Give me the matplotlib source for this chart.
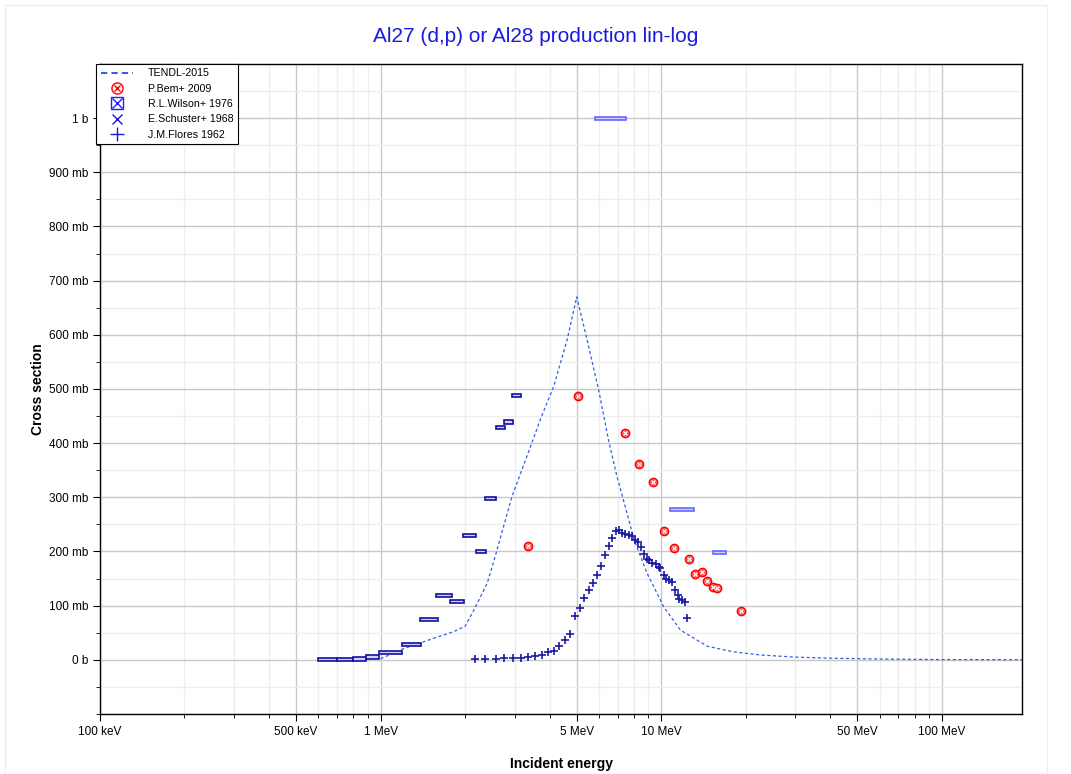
import matplotlib
matplotlib.use("Agg")
import matplotlib.pyplot as plt
from matplotlib.lines import Line2D
from matplotlib.patches import Rectangle
from matplotlib.legend_handler import HandlerTuple
from matplotlib.ticker import FixedLocator, FuncFormatter, MultipleLocator

plt.rcParams['font.family'] = ['Liberation Sans', 'DejaVu Sans']

# TENDL-2015 evaluation (MeV, mb)
tendl_e = [1.0, 1.2, 1.55, 1.82, 2.0, 2.15, 2.4, 2.56, 2.94, 3.0, 3.4, 3.71, 4.14, 4.62, 5.0,
           5.4, 5.98, 6.48, 6.95, 7.55, 8.0, 8.9, 10.2, 11.7, 14.6, 18, 22.5, 30, 40, 60, 100, 193]
tendl_xs = [2, 20, 40, 52, 62, 92, 142, 191, 302, 314, 390, 444, 505, 591, 670,
            598, 499, 407, 339, 271, 222, 160, 98, 55, 25, 15, 9, 5, 3, 1.5, 0.5, 0.2]

# P.Bem+ 2009
bem_e = [3.34, 5.07, 7.45, 8.31, 9.33, 10.2, 11.1, 12.6, 13.2, 14.0, 14.6, 15.3, 15.8, 19.3]
bem_xs = [211, 487, 419, 362, 328, 238, 207, 187, 159, 163, 146, 135, 133, 90]

# R.L.Wilson+ 1976 (energy bins)
wil_lo = [0.597, 0.697, 0.795, 0.89, 0.99, 1.19, 1.38, 1.58, 1.77, 1.97, 2.18, 2.36, 2.57, 2.76, 2.95,
          5.79, 10.78, 15.27]
wil_hi = [0.697, 0.795, 0.89, 0.99, 1.19, 1.39, 1.6, 1.79, 1.99, 2.18, 2.38, 2.58, 2.78, 2.97, 3.17,
          7.49, 13.06, 16.97]
wil_xs = [0, 0, 1.5, 5, 14, 28, 75, 119, 108, 229, 200, 298, 429, 439, 488, 999, 278, 198]
wil_light = [False] * 15 + [True] * 3

# J.M.Flores 1962
flo_e = [2.166, 2.364, 2.567, 2.763, 2.967, 3.167, 3.363, 3.552, 3.75, 3.963, 4.152, 4.335, 4.543,
         4.745, 4.93, 5.12, 5.32, 5.53, 5.71, 5.92, 6.12, 6.30, 6.52, 6.68, 6.88, 7.05, 7.25, 7.44,
         7.65, 7.84, 8.06, 8.26, 8.44, 8.65, 8.87, 9.04, 9.29, 9.54, 9.81, 9.92, 10.19, 10.42, 10.65,
         10.88, 11.21, 11.43, 11.59, 11.88, 12.14, 12.38]
flo_xs = [1.3, 1.3, 1.3, 2.5, 3.1, 4.3, 5, 6.8, 9.8, 15.3, 17.1, 25.3, 37,
          48, 80, 95, 115, 128, 142, 157, 174, 194, 211, 224, 237, 239, 234, 233,
          231, 228, 222, 217, 208, 195, 186, 184, 179, 177, 172, 169, 157, 150, 147,
          144, 129, 120, 112, 110, 107, 78]

x_ticks = [0.1, 0.5, 1, 5, 10, 50, 100]
x_labels = ["100 keV", "500 keV", "1 MeV", "5 MeV", "10 MeV", "50 MeV", "100 MeV"]

fig = plt.figure(figsize=(10.71, 7.74), dpi=100)
ax = fig.add_axes([100 / 1071, 1 - 714 / 774, 922 / 1071, 650 / 774])

ax.set_xscale('log')
ax.set_xlim(0.1, 193)
ax.set_ylim(-100, 1100)

# grid
ax.set_xticks(x_ticks)
ax.set_xticklabels(x_labels)
minor_x = [m * 10.0 ** d for d in (-1, 0, 1, 2) for m in (2, 3, 4, 6, 7, 8, 9) if m * 10.0 ** d < 193]
ax.xaxis.set_minor_locator(FixedLocator(minor_x))
ax.yaxis.set_major_locator(FixedLocator([0, 100, 200, 300, 400, 500, 600, 700, 800, 900, 1000]))
ax.yaxis.set_minor_locator(MultipleLocator(50))
ax.yaxis.set_major_formatter(FuncFormatter(
    lambda v, p: "0 b" if v == 0 else ("1 b" if v == 1000 else "%d mb" % v)))
ax.grid(which='major', color='#c8c8c8', lw=1.0)
ax.grid(which='minor', color='#eeeeee', lw=1.0)
ax.set_axisbelow(True)

ax.tick_params(which='both', direction='out', labelsize=8.5, color='black')
ax.tick_params(which='major', length=5)
ax.tick_params(which='minor', length=3)
for s in ax.spines.values():
    s.set_linewidth(1.0)

ax.plot(tendl_e, tendl_xs, color='#3360e0', lw=0.9, ls=(0, (2.5, 2)), zorder=3)

for lo, hi, y, light in zip(wil_lo, wil_hi, wil_xs, wil_light):
    ec = '#6666ff' if light else '#1010a0'
    ax.add_patch(Rectangle((lo, y - 3), hi - lo, 6, facecolor='#d0d0f8', edgecolor=ec,
                           lw=1.2, zorder=4))

ax.plot(bem_e, bem_xs, 'o', ms=6, mfc='#ff6060', mec='red', mew=1.0, zorder=5)
ax.plot(bem_e, bem_xs, 'x', ms=3.5, color='white', mew=0.8, zorder=6)
ax.plot(flo_e, flo_xs, '+', ms=6, color='#1a1aa0', mew=1.2, zorder=5)

ax.set_xlabel("Incident energy", fontsize=10, fontweight='bold', labelpad=14)
ax.set_ylabel("Cross section", fontsize=10, fontweight='bold', labelpad=3)
fig.text(0.5, 0.953, "Al27 (d,p) or Al28 production lin-log", ha='center', va='center',
         fontsize=15, color='#1a1ae0')

# legend
h_tendl = Line2D([], [], color='#3360e0', lw=1.5, ls=(0, (3, 2)))
h_bem = (Line2D([], [], marker='o', ls='', ms=8, mfc='none', mec='red', mew=1.0),
         Line2D([], [], marker='x', ls='', ms=5, color='red', mew=1.0))
h_wil = (Line2D([], [], marker='s', ls='', ms=8, mfc='none', mec='#2020ff', mew=1.0),
         Line2D([], [], marker='x', ls='', ms=7, color='#2020ff', mew=1.0))
h_sch = Line2D([], [], marker='x', ls='', ms=7, color='#1a1ad0', mew=1.0)
h_flo = Line2D([], [], marker='+', ls='', ms=10, color='#1a1ad0', mew=1.0)
leg = ax.legend([h_tendl, h_bem, h_wil, h_sch, h_flo],
                ["TENDL-2015", "P.Bem+ 2009", "R.L.Wilson+ 1976", "E.Schuster+ 1968", "J.M.Flores 1962"],
                handler_map={tuple: HandlerTuple(ndivide=1, pad=0)},
                loc='upper left', bbox_to_anchor=(-0.004, 1.0), fontsize=7.7, frameon=True,
                fancybox=False, edgecolor='black', framealpha=1, borderaxespad=0,
                handlelength=3.0, labelspacing=0.5, borderpad=0.4, handletextpad=1.4)
leg.get_frame().set_linewidth(0.8)

fig.patches.append(Rectangle((5 / 1071, 0), 1042 / 1071, 769 / 774, transform=fig.transFigure,
                             fill=False, edgecolor='#eeeeee', lw=1))

fig.savefig("out.png", dpi=100)
